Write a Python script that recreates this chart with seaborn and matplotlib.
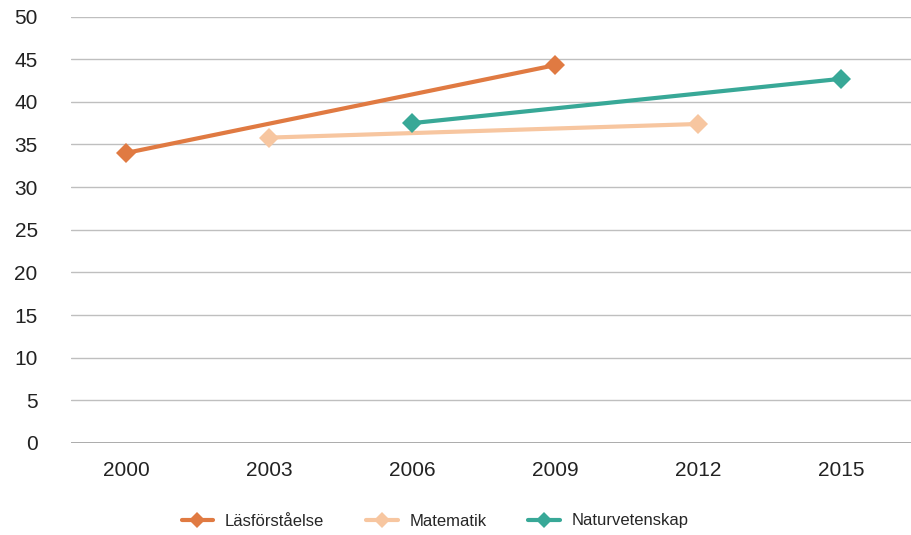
import matplotlib
matplotlib.use("Agg")
import matplotlib.pyplot as plt
import seaborn as sns
import pandas as pd

years = ["2000", "2003", "2006", "2009", "2012", "2015"]

las_years = ["2000", "2009"]
las_values = [34.0, 44.3]
mat_years = ["2003", "2012"]
mat_values = [35.8, 37.4]
nat_years = ["2006", "2015"]
nat_values = [37.5, 42.7]

series_names = ["Läsförståelse", "Matematik", "Naturvetenskap"]
colors = ["#E07A42", "#F7C6A0", "#38A897"]

rows = []
for name, ys, vs in zip(series_names, [las_years, mat_years, nat_years],
                        [las_values, mat_values, nat_values]):
    for y, v in zip(ys, vs):
        rows.append({"Ämne": name, "År": y, "pos": years.index(y), "Värde": v})
df = pd.DataFrame(rows)

sns.set_theme(style="white")
plt.rcParams["font.family"] = ["Liberation Sans", "DejaVu Sans"]

fig = plt.figure(figsize=(9.12, 5.35), dpi=100)
ax = fig.add_axes([71 / 912, 1 - 443 / 535, 1 - 71 / 912, (443 - 16.5) / 535])

sns.lineplot(data=df, x="pos", y="Värde", hue="Ämne", hue_order=series_names,
             palette=colors, style="Ämne", markers=["D", "D", "D"], dashes=False,
             markersize=10, markeredgewidth=0, linewidth=3, ax=ax, legend=True)

ax.set_xlim(-55 / 143.1, (912 - 126) / 143.1)
ax.set_ylim(0, 50)
ax.set_yticks(range(0, 51, 5))
ax.set_xticks(range(len(years)))
ax.set_xticklabels(years)
ax.set_xlabel("")
ax.set_ylabel("")
for s in ax.spines.values():
    s.set_visible(False)
ax.grid(axis="y", color="#BFBFBF", linewidth=1)
ax.set_axisbelow(True)
ax.axhline(0, color="#A0A0A0", linewidth=1.2, zorder=1)
ax.tick_params(axis="both", length=0, labelsize=15, colors="#222222")
ax.tick_params(axis="y", pad=24)
ax.tick_params(axis="x", pad=13)
for lab in ax.get_yticklabels():
    lab.set_horizontalalignment("right")

handles, labels = ax.get_legend_handles_labels()
for h in handles:
    h.set_markersize(8.5)
ax.get_legend().remove()
fig.legend(handles, labels, loc="center", bbox_to_anchor=(435 / 912, 1 - 521 / 535),
           ncol=3, frameon=False, fontsize=12, handlelength=1.9,
           columnspacing=2.5, handletextpad=0.7)

fig.savefig("out.png", dpi=100)
